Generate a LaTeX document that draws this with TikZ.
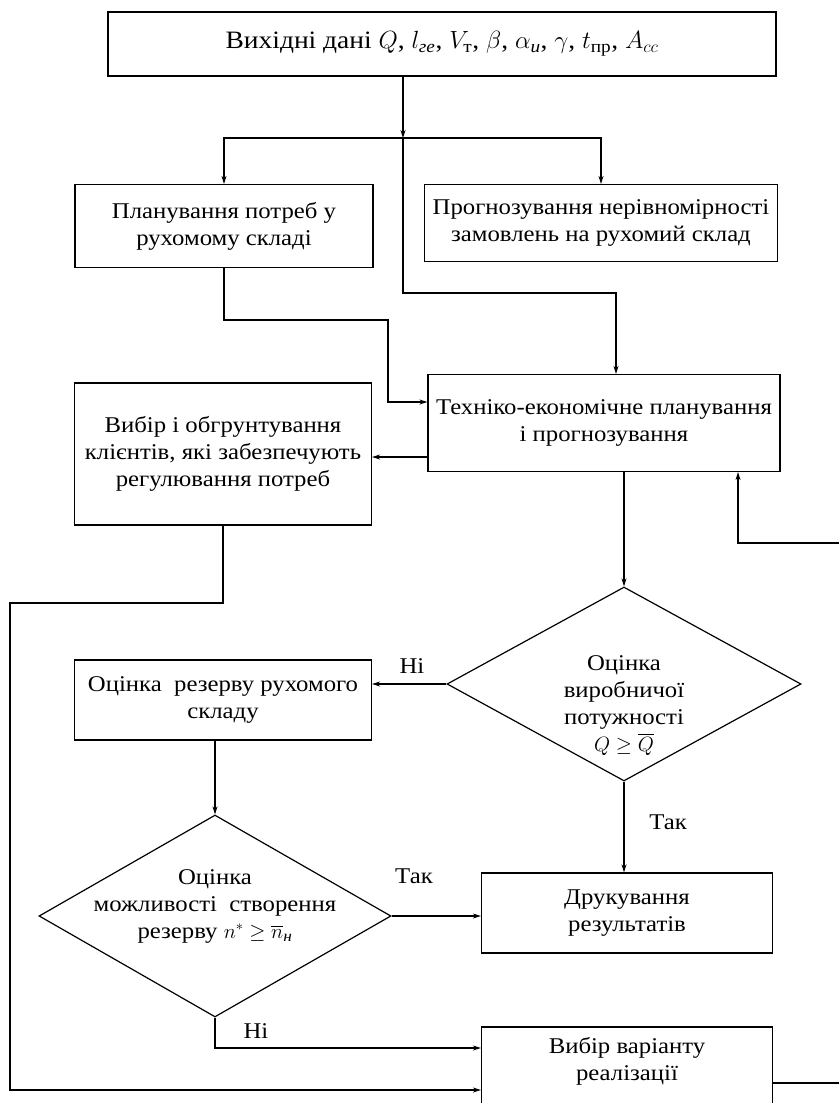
\documentclass[tikz,border=0pt]{standalone}
\usepackage{amsmath}
\usepackage{fontspec}
\setmainfont{Liberation Serif}[FakeStretch=1.1]
\usetikzlibrary{shapes.geometric,arrows.meta}

\begin{document}
\begin{tikzpicture}
  [x=1pt,y=-1pt,line width=1.2pt,>={Stealth[length=8pt,width=5pt]},
   every node/.style={font=\fontsize{22.5}{27}\selectfont,align=center,inner sep=0pt},
   blok/.style={draw,rectangle},
   romb/.style={draw,diamond}]
  \fill[white] (0,0) rectangle (839,1103);
  \useasboundingbox (0,0) rectangle (839,1103);
  \clip (0,0) rectangle (839,1103);

  \node[blok,minimum width=668pt,minimum height=64pt,font=\fontsize{25}{30}\selectfont] (n1) at (442,44)
    {Вихідні дані $Q$, $l_{\textit{ге}}$, $V_{\text{т}}$, $\beta$, $\alpha_{\textit{и}}$, $\gamma$, $t_{\text{пр}}$, $A_{cc}$};
  \node[blok,minimum width=298pt,minimum height=83pt] (n2) at (224,226) {Планування потреб у\\рухомому складі};
  \node[blok,minimum width=353pt,minimum height=77pt] (n3) at (601,223) {Прогнозування нерівномірності\\замовлень на рухомий склад};
  \node[blok,minimum width=352pt,minimum height=97pt] (n4) at (604,423) {Техніко-економічне планування\\і прогнозування};
  \node[blok,minimum width=297pt,minimum height=142pt] (n5) at (223,454) {Вибір і обгрунтування\\клієнтів, які забезпечують\\регулювання потреб};
  \node[blok,minimum width=297pt,minimum height=80pt] (n6) at (223,700) {Оцінка\ \ резерву рухомого\\складу};
  \node[romb,minimum width=354pt,minimum height=194pt] (n7) at (624,684) {};
  \node (t7) at (624,706) {Оцінка\\виробничої\\потужності\\$Q\geq\overline{Q}$};
  \node[romb,minimum width=352pt,minimum height=202pt] (n8) at (215,916) {};
  \node (t8) at (215,906) {Оцінка\\можливості\ \ створення\\резерву $n^{*}\geq\overline{n}_{\textit{н}}$};
  \node[blok,minimum width=291pt,minimum height=80pt] (n9) at (627,913) {Друкування\\результатів};
  \node[blok,minimum width=291pt,minimum height=90pt] (n10) at (627,1072) {Вибір варіанту\\реалізації\\\mbox{}};

  % labels on the branches
  \node (l1) at (412,666) {Ні};
  \node (l2) at (414,876) {Так};
  \node (l3) at (668,822) {Так};
  \node (l4) at (256,1031) {Ні};

  % bends of the connectors
  \coordinate (j1) at (403,138);
  \coordinate (j2) at (403,293);
  \coordinate (j3) at (388,320);
  \coordinate (j4) at (10,603);
  \coordinate (r1) at (839,543);
  \coordinate (r2) at (839,1083);

  \draw[->] (n1.south -| j1) -- (j1);
  \foreach \to in {n2,n3}
    \draw[->] (j1) -| (\to);
  \draw[->] (j1) -- (j2) -| ([xshift=12pt]n4.north);
  \draw[->] (n2) |- (j3) |- ([yshift=21pt]n4.west);
  \draw[->] ([yshift=-34pt]n4.west) -- ([yshift=-34pt]n4.west -| n5.east);
  \draw[->] (r1) -| ([xshift=134pt]n4.south);
  \draw[->] (n4.south -| n7.north) -- (n7.north);
  \draw[->] (n7.west) -- (n7.west -| n6.east);
  \draw[->] (n6.south -| n8.north) -- (n8.north);
  \draw[->] (n7.south) -- (n7.south |- n9.north);
  \draw[->] (n8.east) -- (n8.east -| n9.west);
  \draw[->] (n8.south) |- ([yshift=24pt]n10.west);
  \draw[->] (n5) |- (j4) |- ([yshift=-18pt]n10.west);
  \draw ([yshift=-11pt]n10.east) -- (r2);

\end{tikzpicture}
\end{document}
